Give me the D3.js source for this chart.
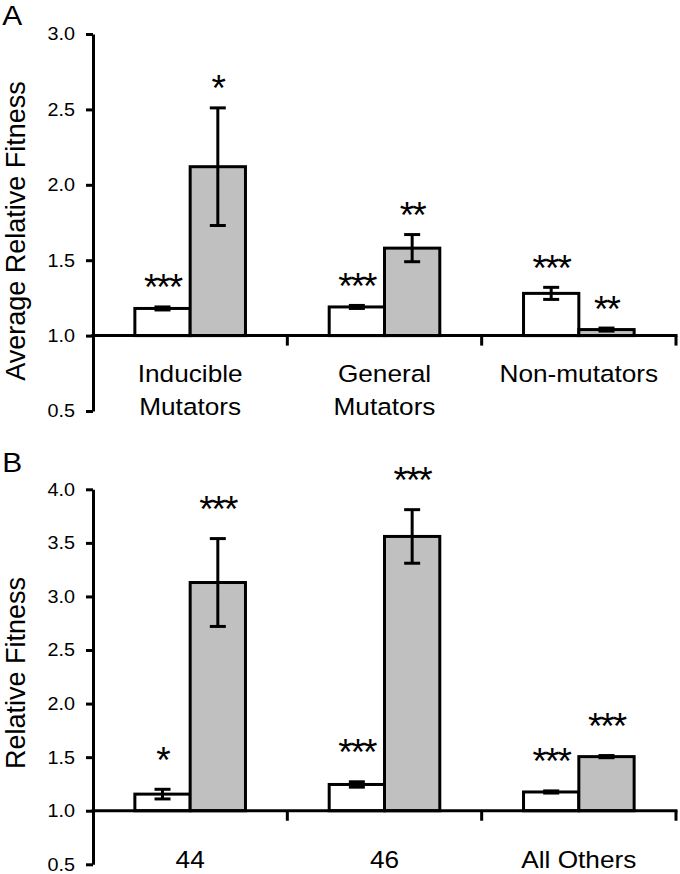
<!DOCTYPE html>
<html><head><meta charset="utf-8">
<script src="https://cdn.jsdelivr.net/npm/d3@7"></script>
<style>
body{margin:0;background:#fff}
svg{display:block}
text{font-family:"Liberation Sans",Arial,Helvetica,sans-serif;fill:#000}
</style>
</head><body>
<svg id="chart" width="680" height="874"></svg>
<script>
// ---------- DATA ----------
const categoriesA = [["Inducible","Mutators"],["General","Mutators"],["Non-mutators"]];
const whiteA = [1.18, 1.19, 1.28];
const whiteErrA = [0.01, 0.01, 0.04];
const grayA = [2.12, 1.58, 1.04];
const grayErrA = [0.39, 0.09, 0.01];
const whiteStarsA = ["***","***","***"];
const grayStarsA = ["*","**","**"];
const yTicksA = [0.5, 1.0, 1.5, 2.0, 2.5, 3.0];

const categoriesB = [["44"],["46"],["All Others"]];
const whiteB = [1.155, 1.245, 1.175];
const whiteErrB = [0.045, 0.025, 0.01];
const grayB = [3.13, 3.56, 1.505];
const grayErrB = [0.41, 0.25, 0.01];
const whiteStarsB = ["*","***","***"];
const grayStarsB = ["***","***","***"];
const yTicksB = [0.5, 1.0, 1.5, 2.0, 2.5, 3.0, 3.5, 4.0];

const seriesKeys = ["white","gray"];
const seriesFill = {white:"#ffffff", gray:"#c0c0c0"};

// ---------- LAYOUT ----------
const svg = d3.select("#chart");
const axisX0 = 93, axisX1 = 676;
const SX = 1.07; // horizontal text stretch of the reference

const panels = [
  {letter:"A", letterY:25, title:"Average Relative Fitness", titleCY:231,
   cats:categoriesA, white:whiteA, whiteErr:whiteErrA, gray:grayA, grayErr:grayErrA,
   wStars:whiteStarsA, gStars:grayStarsA, ticks:yTicksA,
   domain:[0.5,3.0], range:[411,34], labelOff:46.7, starGap:28},
  {letter:"B", letterY:471.7, title:"Relative Fitness", titleCY:673,
   cats:categoriesB, white:whiteB, whiteErr:whiteErrB, gray:grayB, grayErr:grayErrB,
   wStars:whiteStarsB, gStars:grayStarsB, ticks:yTicksB,
   domain:[0.5,4.0], range:[864.3,489.3], labelOff:57.3, starGap:38}
];

panels.forEach(p => {
  const g = svg.append("g");
  const y = d3.scaleLinear().domain(p.domain).range(p.range);
  const idx = p.cats.map((c,i)=>i);
  const x = d3.scaleBand().domain(idx).range([axisX0, axisX1]).padding(0);
  const xi = d3.scaleBand().domain(seriesKeys).range([0, x.bandwidth()])
               .paddingInner(0).paddingOuter(0.757);
  const base = y(1.0);

  // panel letter
  g.append("text").attr("x",2).attr("y",p.letterY)
    .attr("font-size",28).attr("transform",`scale(${SX},1)`).text(p.letter);

  // y title
  g.append("text")
    .attr("transform",`translate(25,${p.titleCY}) rotate(-90)`)
    .attr("text-anchor","middle").attr("font-size",27).text(p.title);

  // y axis
  const ya = g.append("g").attr("transform",`translate(${axisX0},0)`)
    .call(d3.axisLeft(y).tickValues(p.ticks).tickFormat(d3.format(".1f"))
      .tickSize(7).tickSizeOuter(0).tickPadding(11));
  ya.select(".domain").attr("stroke","#000").attr("stroke-width",3);
  ya.selectAll(".tick line").attr("stroke","#000").attr("stroke-width",3);
  ya.selectAll(".tick text").attr("font-size",18.5).attr("fill","#000")
    .attr("font-family",'"Liberation Sans",Arial,sans-serif')
    .attr("x", -18/SX).attr("transform",`scale(${SX},1)`);

  // bars
  const rows = idx.map(i => [
    {k:"white", i, v:p.white[i], e:p.whiteErr[i], s:p.wStars[i]},
    {k:"gray",  i, v:p.gray[i],  e:p.grayErr[i],  s:p.gStars[i]}
  ]).flat();

  g.selectAll("rect.bar").data(rows).join("rect").attr("class","bar")
    .attr("x", d => x(d.i) + xi(d.k))
    .attr("width", xi.bandwidth())
    .attr("y", d => y(d.v))
    .attr("height", d => base - y(d.v))
    .attr("fill", d => seriesFill[d.k])
    .attr("stroke","#000").attr("stroke-width",3);

  // x axis line with category separators
  g.append("line").attr("x1",axisX0-1.5).attr("x2",axisX1+1.5)
    .attr("y1",base).attr("y2",base).attr("stroke","#000").attr("stroke-width",3);
  g.selectAll("line.xt").data(idx).join("line").attr("class","xt")
    .attr("x1", i => x(i)+x.bandwidth()).attr("x2", i => x(i)+x.bandwidth())
    .attr("y1", base).attr("y2", base+10)
    .attr("stroke","#000").attr("stroke-width",3);

  // error bars
  const cap = 16;
  const eb = g.selectAll("g.eb").data(rows).join("g").attr("class","eb")
    .attr("stroke","#000").attr("stroke-width",3);
  const cx = d => x(d.i) + xi(d.k) + xi.bandwidth()/2;
  eb.append("line").attr("x1",cx).attr("x2",cx)
    .attr("y1", d => y(d.v - d.e)).attr("y2", d => y(d.v + d.e));
  eb.append("line").attr("x1", d => cx(d)-cap/2).attr("x2", d => cx(d)+cap/2)
    .attr("y1", d => y(d.v + d.e)).attr("y2", d => y(d.v + d.e));
  eb.append("line").attr("x1", d => cx(d)-cap/2).attr("x2", d => cx(d)+cap/2)
    .attr("y1", d => y(d.v - d.e)).attr("y2", d => y(d.v - d.e));

  // significance stars
  const fsStar = 37;
  g.selectAll("text.star").data(rows).join("text").attr("class","star")
    .attr("x", cx)
    .attr("y", d => y(d.v + d.e) - p.starGap + 0.58*fsStar)
    .attr("text-anchor","middle").attr("font-size",fsStar)
    .attr("letter-spacing", "-2px")
    .attr("fill","#222")
    .text(d => d.s);

  // category labels
  idx.forEach(i => {
    const t = g.append("text").attr("text-anchor","middle").attr("font-size",24.5)
      .attr("transform",`translate(${x(i)+x.bandwidth()/2},${base+p.labelOff}) scale(${SX},1)`);
    p.cats[i].forEach((line,j) => {
      t.append("tspan").attr("x",0).attr("y", j*33).text(line);
    });
  });
});
</script>
</body></html>
